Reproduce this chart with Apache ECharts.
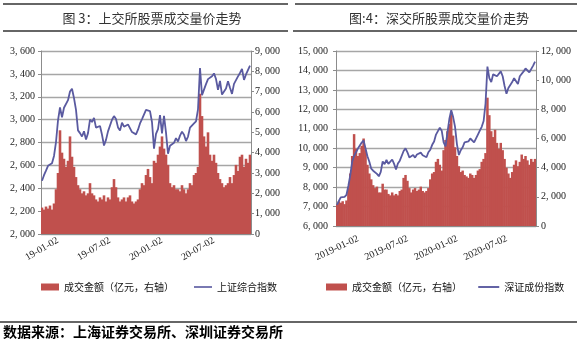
<!DOCTYPE html>
<html>
<head>
<meta charset="utf-8">
<script src="https://cdn.jsdelivr.net/npm/echarts@6/dist/echarts.min.js"></script>
<style>
  html, body { margin: 0; padding: 0; background: #fff; }
  #main { width: 581px; height: 343px; }
</style>
</head>
<body>
<div id="main"></div>
<script>
// half-year label dates, weekly samples in between
const halfStarts = ['2019-01-02', '2019-07-02', '2020-01-02', '2020-07-02']
const lastDate = '2020-12-31'

// 上交所: 上证综合指数 (left axis) / 成交金额 亿元 (right axis)
const shIndex = [
  2465, 2514, 2554, 2596, 2601, 2618, 2682, 2804, 2994, 3106, 3021, 3104, 3090, 3170, 3246, 3270, 3188, 3086, 2906, 2882, 2852, 2898, 2827, 2882, 3001, 2979,
  3015, 2930, 2924, 2944, 2868, 2774, 2823, 2897, 2886, 2999, 3031, 3006, 2932, 2905, 2973, 2938, 2955, 2958, 2964, 2891, 2885, 2871, 2912, 2967, 3005, 3005,
  3085, 3092, 3075, 2977, 2746, 2876, 2917, 3040, 2880, 3034, 2887, 2702, 2772, 2764, 2797, 2838, 2809, 2860, 2895, 2868, 2813, 2852, 2930, 2920, 2967, 2985,
  3090, 3450, 3214, 3197, 3310, 3354, 3360, 3380, 3404, 3355, 3260, 3338, 3219, 3218, 3272, 3336, 3278, 3225, 3312, 3310, 3378, 3408, 3444, 3347, 3395, 3397,
  3473
]
const shAmount = [
  1300, 1200, 1350, 1250, 1400, 1200, 1500, 2200, 3000, 5100, 4000, 3700, 3300, 3600, 4800, 3800, 3300, 2800, 2400, 2200, 2000, 2100, 1900, 2000, 2500, 2000,
  1900, 1700, 1600, 1800, 1700, 1900, 1600, 1800, 1700, 2300, 2700, 2300, 1800, 1600, 1700, 1800, 1600, 1800, 1900, 1600, 1500, 1600, 1700, 2200, 2500, 2400,
  2900, 3200, 2800, 2500, 3600, 3500, 3900, 4300, 4800, 4200, 3900, 3400, 2500, 2300, 2400, 2200, 2200, 2100, 2400, 2200, 2000, 2200, 2500, 2400, 2900, 3000,
  3300, 6900, 5800, 4800, 4300, 5000, 3900, 3600, 3900, 3500, 3000, 2700, 2500, 2300, 2400, 2500, 2800, 2500, 2900, 3400, 3100, 3800, 3900, 3300, 3700, 3500,
  3900
]

// 深交所: 深证成份指数 (left axis) / 成交金额 亿元 (right axis)
const szIndex = [
  7090, 7284, 7474, 7559, 7500, 7605, 8070, 8621, 9315, 9600, 9556, 9987, 9906, 10289, 10400, 10500, 9586, 9300, 8950, 8843, 8754, 8681, 8556, 8779, 9321, 9183,
  9395, 9191, 9274, 9421, 9193, 8905, 9212, 9359, 9425, 9855, 9998, 9790, 9528, 9600, 9651, 9518, 9679, 9728, 9772, 9642, 9549, 9537, 9791, 9922, 10175, 10347,
  10700, 10880, 11050, 10900, 10300, 10100, 10800, 11500, 11950, 11600, 11100, 10200, 9650, 9900, 10050, 10300, 10200, 10350, 10500, 10400, 10300, 10400, 10700, 10900, 11100, 11400,
  12300, 14200, 13600, 13400, 13800, 13900, 13700, 13600, 13950, 13700, 13200, 12800, 13100, 13200, 13400, 13600, 13500, 13300, 13700, 13800, 13950, 14100, 14200, 13900, 14000, 14250,
  14450
]
const szAmount = [
  1500, 1700, 1600, 1700, 1500, 1750, 2600, 3600, 4800, 6300, 5300, 4800, 5000, 5500, 6000, 5200, 4200, 3600, 3200, 2800, 2600, 2700, 2300, 2300, 2900, 2500,
  2500, 2200, 2100, 2300, 2100, 2200, 2100, 2400, 2500, 3300, 3500, 3100, 2600, 2300, 2500, 2600, 2400, 2500, 2700, 2400, 2300, 2400, 2600, 3200, 3600, 3700,
  4400, 4600, 4200, 3800, 5200, 5900, 6500, 7000, 7800, 6200, 5400, 4800, 4100, 3700, 3800, 3500, 3400, 3300, 3600, 3500, 3300, 3500, 3800, 3900, 4400, 4600,
  5000, 8800, 7600, 6500, 6100, 6600, 5700, 5300, 5700, 5200, 4600, 4000, 3600, 3300, 3700, 4200, 4500, 4100, 4400, 4900, 4600, 4800, 4500, 4200, 4600, 4400,
  4600
]

function pad(n) { return n < 10 ? '0' + n : '' + n }
const dates = []
halfStarts.forEach(function (s) {
  const p = s.split('-')
  for (let k = 0; k < 26; k++) {
    const d = new Date(Date.UTC(+p[0], +p[1] - 1, +p[2] + k * 7))
    dates.push(d.getUTCFullYear() + '-' + pad(d.getUTCMonth() + 1) + '-' + pad(d.getUTCDate()))
  }
})
dates.push(lastDate)

const RED = '#C0504D'
const BLUE = '#5A5AA0'
const GRID = '#A6A6A6'
const AXIS = '#8C8C8C'
const NUM_FONT = 'Liberation Serif'
const CJK_FONT = 'Noto Sans CJK SC'
const LINE_ICON = 'path://M0 0H20V1.8H0Z'

function fmt(v) {
  return String(v).replace(/\B(?=(\d{3})+(?!\d))/g, ', ')
}
function isLabel(idx, val) {
  return halfStarts.indexOf(val) >= 0
}

function xAxisFor(gi, margin, rotate, short) {
  return {
    type: 'category',
    gridIndex: gi,
    data: dates,
    boundaryGap: true,
    axisLine: { lineStyle: { color: AXIS, width: 1 } },
    axisTick: { interval: isLabel, alignWithLabel: true, length: 4, lineStyle: { color: AXIS } },
    axisLabel: {
      interval: isLabel,
      rotate: rotate,
      align: 'center',
      verticalAlign: 'middle',
      margin: margin,
      fontFamily: NUM_FONT,
      fontSize: 10,
      color: '#222',
      formatter: function (v) { return short ? v.slice(2) : v }
    }
  }
}

function yAxisFor(gi, pos, min, max, step, split, margin) {
  return {
    type: 'value',
    gridIndex: gi,
    position: pos,
    min: min,
    max: max,
    interval: step,
    axisLine: { show: true, lineStyle: { color: AXIS, width: 1 } },
    axisTick: { show: true, length: 3, lineStyle: { color: AXIS } },
    axisLabel: { margin: margin, fontFamily: NUM_FONT, fontSize: 10, color: '#222', formatter: fmt },
    splitLine: { show: split, lineStyle: { color: GRID, width: 1.3 } }
  }
}

const chart = echarts.init(document.getElementById('main'))
chart.setOption({
  backgroundColor: '#fff',
  animation: false,
  title: [
    { text: '图 3：上交所股票成交量价走势', left: 147, top: 7, textAlign: 'center',
      textStyle: { fontFamily: CJK_FONT, fontSize: 13, fontWeight: 'normal', color: '#333' } },
    { text: '图:4：深交所股票成交量价走势', left: 434, top: 7, textAlign: 'center',
      textStyle: { fontFamily: CJK_FONT, fontSize: 13, fontWeight: 'normal', color: '#333' } }
  ],
  grid: [
    { left: 41, top: 51, width: 210, height: 183 },
    { left: 336, top: 51, width: 200, height: 175 }
  ],
  xAxis: [xAxisFor(0, 15, 30, true), xAxisFor(1, 22, 25, false)],
  yAxis: [
    yAxisFor(0, 'left', 2000, 3600, 200, true, 6),
    yAxisFor(0, 'right', 0, 9000, 1000, false, 4),
    yAxisFor(1, 'left', 6000, 15000, 1000, true, 8),
    yAxisFor(1, 'right', 0, 12000, 2000, false, 5)
  ],
  legend: [
    { left: 36, top: 277, itemWidth: 18, itemHeight: 7, itemGap: 20,
      textStyle: { fontFamily: CJK_FONT, fontSize: 10, color: '#111' },
      data: [{ name: '成交金额（亿元，右轴）', icon: 'rect' }, { name: '上证综合指数', icon: LINE_ICON }] },
    { left: 321, top: 277, itemWidth: 21, itemHeight: 7, itemGap: 14,
      textStyle: { fontFamily: CJK_FONT, fontSize: 10, color: '#111' },
      data: [{ name: '成交金额（亿元，右轴） ', icon: 'rect' }, { name: '深证成份指数', icon: LINE_ICON }] }
  ],
  series: [
    { name: '成交金额（亿元，右轴）', type: 'bar', xAxisIndex: 0, yAxisIndex: 1,
      data: shAmount, barWidth: 2.6, itemStyle: { color: RED } },
    { name: '上证综合指数', type: 'line', xAxisIndex: 0, yAxisIndex: 0,
      data: shIndex, symbol: 'none', lineStyle: { color: BLUE, width: 1.8 }, itemStyle: { color: BLUE } },
    { name: '成交金额（亿元，右轴） ', type: 'bar', xAxisIndex: 1, yAxisIndex: 3,
      data: szAmount, barWidth: 2.5, itemStyle: { color: RED } },
    { name: '深证成份指数', type: 'line', xAxisIndex: 1, yAxisIndex: 2,
      data: szIndex, symbol: 'none', lineStyle: { color: BLUE, width: 1.8 }, itemStyle: { color: BLUE } }
  ],
  graphic: [
    { type: 'line', shape: { x1: 3, y1: 4, x2: 288, y2: 4 }, style: { stroke: '#333', lineWidth: 1.5 } },
    { type: 'line', shape: { x1: 3, y1: 31, x2: 288, y2: 31 }, style: { stroke: '#333', lineWidth: 1.5 } },
    { type: 'line', shape: { x1: 295, y1: 4, x2: 577, y2: 4 }, style: { stroke: '#333', lineWidth: 1.5 } },
    { type: 'line', shape: { x1: 293, y1: 31, x2: 577, y2: 31 }, style: { stroke: '#333', lineWidth: 1.5 } },
    { type: 'line', shape: { x1: 0, y1: 322, x2: 577, y2: 322 }, style: { stroke: '#333', lineWidth: 1.5 } },
    { type: 'text', left: 3, top: 325,
      style: { text: '数据来源：上海证券交易所、深圳证券交易所', fontFamily: CJK_FONT, fontSize: 14, fontWeight: 'bold', fill: '#000' } }
  ]
})
</script>
</body>
</html>
